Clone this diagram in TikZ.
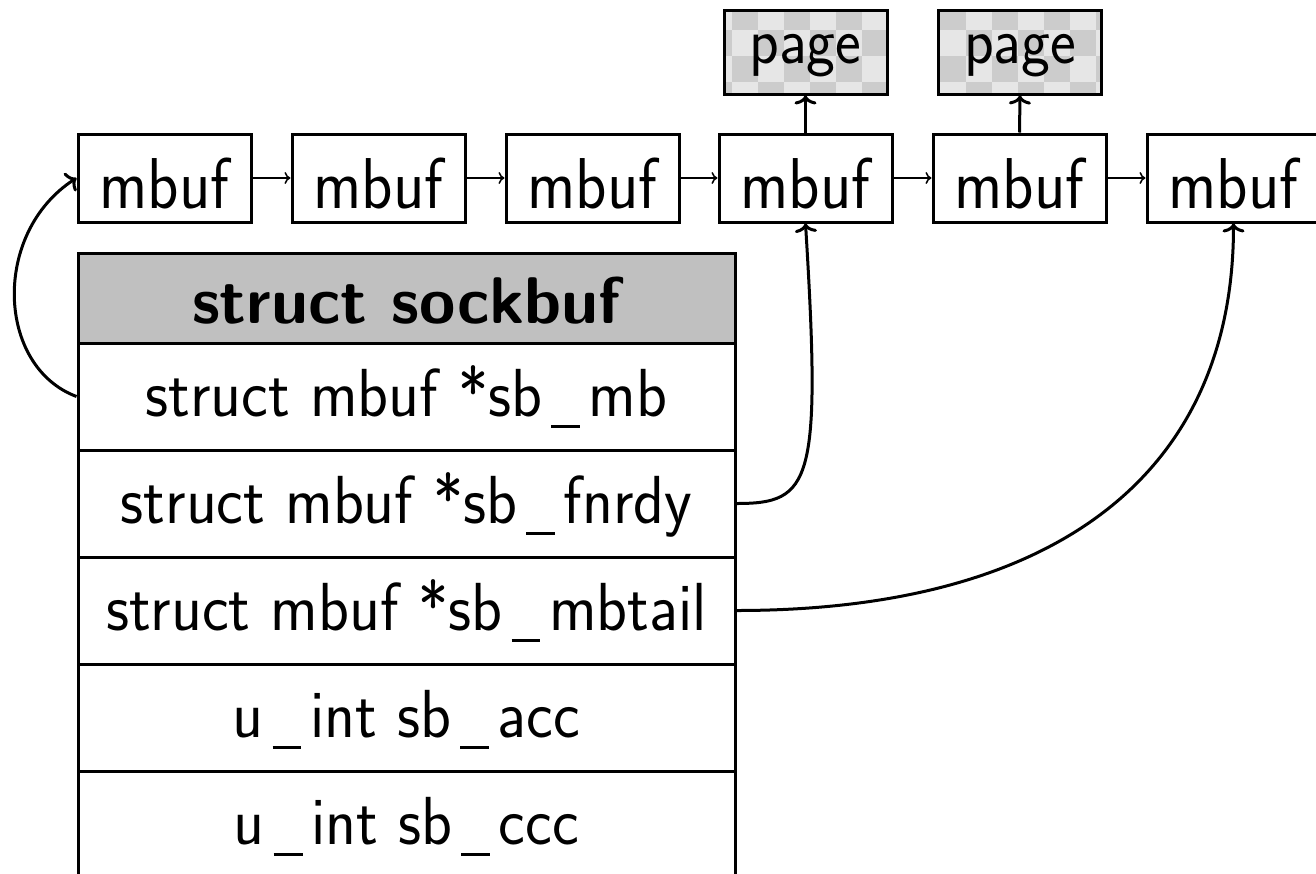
\documentclass[tikz,border=0pt]{standalone}
\usepackage{fontspec}
\usetikzlibrary{arrows.meta}
\definecolor{chklight}{HTML}{E6E6E6}
\definecolor{chkdark}{HTML}{CCCCCC}
\definecolor{hdrgray}{HTML}{C0C0C0}
\newcommand\usc{\kern0.14em\rule[-0.17em]{0.45em}{0.045em}\kern0.14em}
\newcommand\mbtxt[1]{\scalebox{0.9}[1]{#1}}
\newcommand\pgtxt[1]{\scalebox{0.93}[1]{#1}}
\newcommand\rwtxt[1]{\scalebox{0.94}[1]{#1}}
\begin{document}
\begin{tikzpicture}[x=1pt,y=-1pt,
  mbufbox/.style={draw,line width=3pt,minimum width=173pt,minimum height=88pt,inner sep=0pt,
    font=\sffamily\fontsize{72}{80}\selectfont,text height=60pt,text depth=0pt},
  pagebox/.style={draw,line width=3pt,minimum width=163pt,minimum height=84pt,inner sep=0pt,
    font=\sffamily\fontsize{66}{72}\selectfont,text height=42pt,text depth=20pt},
  rowbox/.style={draw,line width=3pt,minimum width=657pt,minimum height=107pt,inner sep=0pt,
    font=\sffamily\fontsize{68}{74}\selectfont,text height=45pt,text depth=5pt},
  hdrbox/.style={draw,line width=3pt,minimum width=657pt,minimum height=90pt,inner sep=0pt,fill=hdrgray,
    font=\sffamily\bfseries\fontsize{66}{72}\selectfont,text height=50pt,text depth=0pt},
  thinarrow/.style={line width=1.5pt,-{To[length=6pt,width=12pt]}},
  thickarrow/.style={line width=3pt,-{To[length=9pt,width=22pt]}}
]
\useasboundingbox (0,0) rectangle (1316,873);

% checkerboard backgrounds of the page boxes
\begin{scope}
  \clip (724,10) rectangle (887,94) (938,10) rectangle (1102,94);
  \fill[chklight] (720,0) rectangle (1110,100);
  \foreach \l in {0,...,3}{
    \foreach \k in {26,28,...,42}{
      \fill[chkdark] ({4+26*(\k+mod(\l,2))},{4+26*\l}) rectangle +(26,26);
    }
  }
\end{scope}

\node[mbufbox] (m1) at (164.5,178) {\mbtxt{mbuf}};
\node[mbufbox] (m2) at (378.5,178) {\mbtxt{mbuf}};
\node[mbufbox] (m3) at (592.5,178) {\mbtxt{mbuf}};
\node[mbufbox] (m4) at (805.5,178) {\mbtxt{mbuf}};
\node[mbufbox] (m5) at (1019.5,178) {\mbtxt{mbuf}};
\node[mbufbox] (m6) at (1233.5,178) {\mbtxt{mbuf}};

\node[pagebox] (p1) at (805.5,52) {\pgtxt{page}};
\node[pagebox] (p2) at (1020,52) {\pgtxt{page}};

\node[hdrbox] (hdr) at (406.5,298) {struct sockbuf};
\node[rowbox] (r1) at (406.5,396.5) {\rwtxt{struct mbuf *sb\usc mb}};
\node[rowbox] (r2) at (406.5,503.5) {\rwtxt{struct mbuf *sb\usc fnrdy}};
\node[rowbox] (r3) at (406.5,610.5) {\rwtxt{struct mbuf *sb\usc mbtail}};
\node[rowbox] (r4) at (406.5,717.5) {\rwtxt{u\usc int sb\usc acc}};
\node[rowbox] (r5) at (406.5,824.5) {\rwtxt{u\usc int sb\usc ccc}};

\draw[thinarrow] (m1.east) -- (m2.west);
\draw[thinarrow] (m2.east) -- (m3.west);
\draw[thinarrow] (m3.east) -- (m4.west);
\draw[thinarrow] (m4.east) -- (m5.west);
\draw[thinarrow] (m5.east) -- (m6.west);

\draw[thickarrow] (m4.north) -- (p1.south);
\draw[thickarrow] (m5.north) -- (p2.south);

\draw[thickarrow] (r1.west) .. controls +(-80,-30) and +(-85,55) .. (m1.west);
\draw[thickarrow] (r2.east) .. controls +(75,0) and +(16,260) .. (m4.south);
\draw[thickarrow] (r3.east) .. controls +(320,0) and +(0,250) .. (m6.south);
\end{tikzpicture}
\end{document}
